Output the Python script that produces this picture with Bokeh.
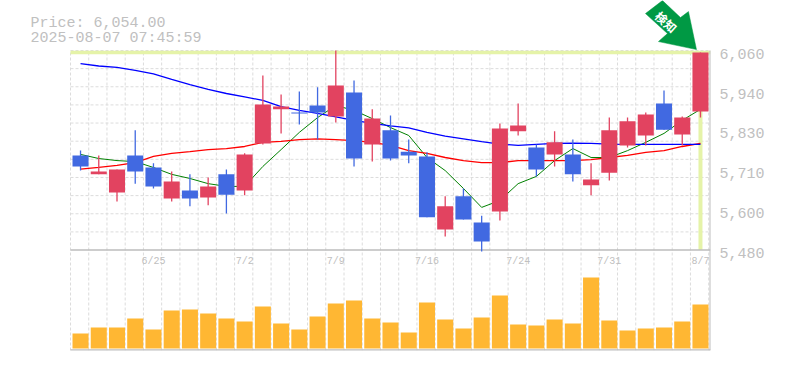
from bokeh.plotting import figure
from bokeh.models import Range1d, FixedTicker, ColumnDataSource
from bokeh.core.properties import value
from bokeh.embed import file_html
from bokeh.resources import INLINE

dates = {4: "6/25", 9: "7/2", 14: "7/9", 19: "7/16", 24: "7/24", 29: "7/31", 34: "8/7"}

opens = [5755,5700,5647,5755,5720,5630,5653,5633,5700,5653,5790,5889,5880,5900,5868,5938,5787,5828,5766,5752,
         5540,5636,5560,5592,5825,5778,5758,5758,5668,5705,5784,5813,5906,5816,5883]
closes = [5723,5708,5714,5708,5665,5679,5630,5665,5641,5758,5903,5897,5877,5880,5958,5746,5862,5746,5755,5575,
          5607,5569,5505,5833,5842,5714,5793,5700,5685,5828,5854,5874,5830,5865,6054]
highs = [5769,5755,5714,5828,5732,5708,5700,5691,5714,5761,5987,5932,5941,5953,6060,5973,5889,5871,5801,5764,
         5636,5659,5580,5848,5906,5787,5825,5801,5732,5865,5865,5880,5944,5868,6054]
lows = [5711,5700,5621,5673,5659,5621,5607,5610,5586,5639,5787,5819,5845,5801,5851,5723,5737,5740,5732,5575,
        5519,5569,5476,5566,5813,5694,5723,5679,5639,5682,5778,5784,5830,5784,5865]
ma_short = [5758,5746,5740,5737,5720,5700,5688,5673,5665,5665,5723,5772,5822,5865,5900,5886,5862,5836,5813,5749,
            5711,5659,5604,5624,5673,5694,5740,5775,5749,5749,5769,5793,5819,5857,5889]
ma_mid = [5715,5720,5726,5734,5752,5761,5766,5772,5775,5781,5793,5796,5801,5803,5801,5798,5793,5784,5769,5761,
          5749,5740,5734,5734,5740,5740,5740,5740,5743,5749,5755,5764,5769,5781,5790]
ma_long = [6022,6015,6011,6002,5992,5976,5961,5947,5935,5925,5915,5897,5886,5877,5867,5857,5848,5841,5835,5822,
           5811,5803,5795,5788,5784,5787,5790,5791,5790,5788,5787,5787,5787,5787,5787]
volumes = [15,21,21,30,19,38,39,35,30,27,42,25,19,32,45,48,30,26,16,46,29,20,31,53,24,23,29,25,71,28,18,20,21,27,44]
volumes = [v * 1000 for v in volumes]
tick_values = [6060, 5944, 5828, 5712, 5596, 5480]
tick_labels = ["6,060", "5,940", "5,830", "5,710", "5,600", "5,480"]
last_price = 6054
title_lines = ["Price: 6,054.00", "2025-08-07 07:45:59"]

RED, BLUE, ORANGE, GRID, AXIS, TXT, LIME = "#E24360", "#4169E1", "#FFB733", "#DCDCDC", "#BDBDBD", "#C0C0C0", "#E5F3A8"
GREEN_ARROW = "#009944"
n = len(opens)
idx = list(range(n))
LABEL_SHIFT = 9
X_PER_PX = 35.1 / 640
Y_PER_PX = 872 / 300
X_LEFT, X_RIGHT = -0.55, n - 0.45
Y_BOTTOM, Y_TOP = 5188, 6060


def px_x(px):  # page pixel column to candle index scale
    return X_LEFT + (px - 70) * X_PER_PX


def px_y(px):  # page pixel row to price scale
    return Y_TOP + (50 - px) * Y_PER_PX


p = figure(width=785, height=370, output_backend="svg", toolbar_location=None,
           x_range=Range1d(px_x(0), X_RIGHT), y_range=Range1d(Y_BOTTOM, px_y(0)),
           min_border_left=0, min_border_right=75, min_border_top=0, min_border_bottom=20,
           y_axis_location="right", background_fill_color="white", border_fill_color="white")
p.outline_line_color = None
p.xaxis.visible = False
p.grid.visible = False
p.extra_y_ranges = {"vol": Range1d(-2000, 348000)}

ax = p.yaxis[0]
ax.ticker = FixedTicker(ticks=[t - LABEL_SHIFT for t in tick_values])
ax.major_label_overrides = {t - LABEL_SHIFT: s for t, s in zip(tick_values, tick_labels)}
ax.axis_line_color = None
ax.major_tick_line_color = None
ax.minor_tick_line_color = None
ax.major_tick_out = 0
ax.major_tick_in = 0
ax.major_label_standoff = 9
ax.major_label_text_font = "Liberation Mono"
ax.major_label_text_font_size = "15px"
ax.major_label_text_color = TXT

# dashed grid: vertical through both panels, horizontal in the price panel only
gx = [k - 0.55 for k in range(n + 1)]
p.segment(gx, [Y_BOTTOM] * len(gx), gx, [Y_TOP] * len(gx), line_color=GRID, line_dash="3 2", line_width=1)
gy = [Y_TOP - k * 580 / 11 for k in range(11)]
p.segment([X_LEFT] * len(gy), gy, [X_RIGHT] * len(gy), gy, line_color=GRID, line_dash="3 2", line_width=1)

# crosshair on the latest price
p.segment([X_LEFT], [last_price], [X_RIGHT], [last_price], line_color=LIME, line_width=3.5)
p.segment([n - 1], [last_price], [n - 1], [tick_values[-1]], line_color=LIME, line_width=4)

# panel frame
p.segment([X_LEFT, X_LEFT], [tick_values[-1], Y_BOTTOM], [X_RIGHT, X_RIGHT], [tick_values[-1], Y_BOTTOM],
          line_color=AXIS, line_width=[1.5, 2.5])
p.segment([X_RIGHT], [Y_BOTTOM], [X_RIGHT], [Y_TOP], line_color=AXIS, line_width=2)

# moving averages
p.line(idx, ma_short, line_color="#008000", line_width=1)
p.line(idx, ma_mid, line_color="#FF0000", line_width=1.3)
p.line(idx, ma_long, line_color="#0000FF", line_width=1.3)

# candles
colors = [RED if c >= o else BLUE for o, c in zip(opens, closes)]
src = ColumnDataSource(dict(x=idx, o=opens, c=closes, h=highs, l=lows, color=colors, v=volumes))
p.segment("x", "h", "x", "l", source=src, line_color="color", line_width=1.3)
p.vbar("x", 0.88, "o", "c", source=src, fill_color="color", line_color=None)

# volume
p.vbar("x", 0.88, 0, "v", source=src, y_range_name="vol", fill_color=ORANGE, line_color=None)

# date labels
p.text(list(dates.keys()), [87000] * len(dates), text=list(dates.values()), y_range_name="vol",
       text_font=value("Liberation Mono"), text_font_size="10px", text_color=TXT,
       text_align="center", text_baseline="middle")

# title lines
p.text([px_x(30)] * 2, [px_y(23), px_y(38)], text=title_lines,
       text_font=value("Liberation Mono"), text_font_size="15px", text_color=TXT,
       text_align="left", text_baseline="alphabetic")

# marker arrow, placed from the last candle's top
arrow_dx = [-55, -38, -20, -12, -4, -42, -33]
arrow_dy = [39, 52, 35, 41, 3, 11, 19]
p.patch([n - 1 + d * X_PER_PX for d in arrow_dx], [last_price + d * Y_PER_PX for d in arrow_dy],
        fill_color=GREEN_ARROW, line_color=GREEN_ARROW, line_width=0.5)
p.text([n - 1 - 34 * X_PER_PX], [last_price + 31 * Y_PER_PX], text=["検知"], angle=-42, angle_units="deg",
       text_font=value("Noto Sans CJK JP"), text_font_style="bold", text_font_size="12px",
       text_color="white", text_align="center", text_baseline="middle")

open("out.html", "w").write(file_html(p, INLINE))
